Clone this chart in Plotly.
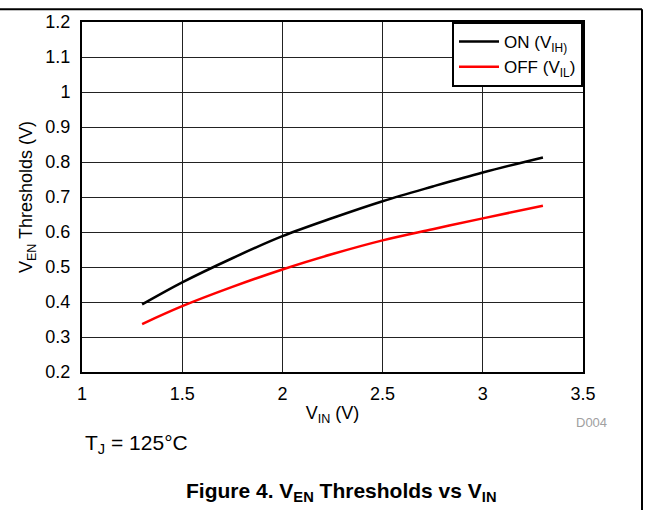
import plotly.graph_objects as go

vin = [1.3, 1.5, 1.75, 2.0, 2.25, 2.5, 2.75, 3.0, 3.3]
v_on = [0.393, 0.456, 0.525, 0.588, 0.640, 0.688, 0.730, 0.770, 0.813]
v_off = [0.337, 0.388, 0.443, 0.493, 0.537, 0.576, 0.608, 0.639, 0.675]

x_ticks = [1, 1.5, 2, 2.5, 3, 3.5]
y_ticks = [0.2, 0.3, 0.4, 0.5, 0.6, 0.7, 0.8, 0.9, 1.0, 1.1, 1.2]

FONT = "Liberation Sans, Arial, sans-serif"

fig = go.Figure()
fig.add_trace(go.Scatter(x=vin, y=v_on, mode="lines", name="ON (V<sub>IH)</sub>",
                         line=dict(color="black", width=2.5, shape="spline")))
fig.add_trace(go.Scatter(x=vin, y=v_off, mode="lines", name="OFF (V<sub>IL</sub>)",
                         line=dict(color="#ff0000", width=2.5, shape="spline")))

fig.update_layout(
    width=649, height=510,
    margin=dict(l=82, r=66, t=18, b=138),
    paper_bgcolor="white", plot_bgcolor="white",
    font=dict(family=FONT, size=18, color="black"),
    showlegend=True,
    legend=dict(x=1, y=1, xanchor="right", yanchor="top",
                bordercolor="black", borderwidth=2, bgcolor="white",
                font=dict(size=17), tracegroupgap=0, itemwidth=40),
    xaxis=dict(range=[1, 3.5], tickvals=x_ticks, showgrid=True, gridcolor="#222222", gridwidth=1,
               showline=True, linecolor="black", linewidth=2, mirror=True, ticks="",
               zeroline=False, tickfont=dict(size=18), ticklabelstandoff=4,
               title=dict(text="V<sub>IN</sub> (V)", font=dict(size=18), standoff=4)),
    yaxis=dict(range=[0.2, 1.2], tickvals=y_ticks, showgrid=True, gridcolor="#222222", gridwidth=1,
               showline=True, linecolor="black", linewidth=2, mirror=True, ticks="",
               zeroline=False, tickfont=dict(size=18), ticklabelstandoff=6,
               title=dict(text="V<sub>EN</sub> Thresholds (V)", font=dict(size=18), standoff=8)),
)

def px(x):
    return (x - 82) / 501.0

def py(y):
    return (372 - y) / 354.0

fig.add_shape(type="line", xref="paper", yref="paper", x0=px(-5), x1=px(642), y0=py(5), y1=py(5),
              line=dict(color="black", width=2))
fig.add_shape(type="line", xref="paper", yref="paper", x0=px(642), x1=px(642), y0=py(5), y1=py(515),
              line=dict(color="black", width=2))

fig.add_annotation(xref="paper", yref="paper", x=px(609), y=py(423), text="D004", showarrow=False,
                   xanchor="right", yanchor="middle", font=dict(size=13, color="#a0a0a0"))
fig.add_annotation(xref="paper", yref="paper", x=px(83), y=py(445), text="T<sub>J</sub> = 125°C",
                   showarrow=False, xanchor="left", yanchor="middle", font=dict(size=21))
fig.add_annotation(xref="paper", yref="paper", x=px(341), y=py(493),
                   text="<b>Figure 4. V<sub>EN</sub> Thresholds vs V<sub>IN</sub></b>",
                   showarrow=False, xanchor="center", yanchor="middle", font=dict(size=21))

fig.write_html("out.html")
